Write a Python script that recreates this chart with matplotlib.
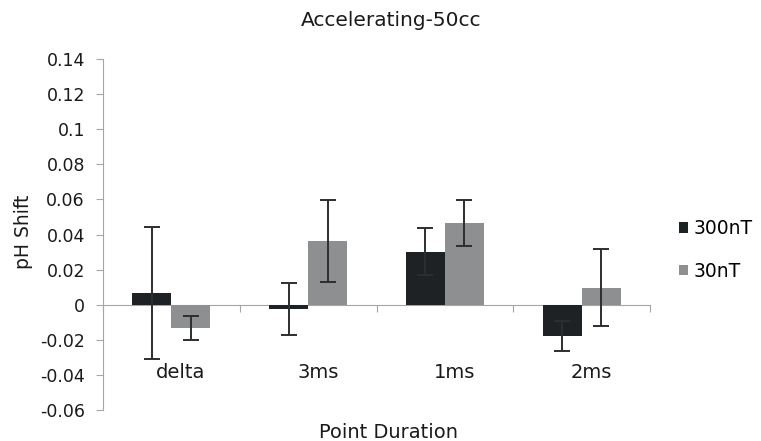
import numpy as np
import matplotlib
matplotlib.use("Agg")
import matplotlib.pyplot as plt

# Data
categories = ["delta", "3ms", "1ms", "2ms"]
series_names = ["300nT", "30nT"]
shift_300nT = [0.0067, -0.0025, 0.0303, -0.0177]
err_300nT = [0.0374, 0.0147, 0.0136, 0.0085]
shift_30nT = [-0.0133, 0.0363, 0.0467, 0.0097]
err_30nT = [0.0068, 0.0233, 0.0130, 0.0219]
y_ticks = [-0.06, -0.04, -0.02, 0, 0.02, 0.04, 0.06, 0.08, 0.1, 0.12, 0.14]
y_tick_labels = ["-0.06", "-0.04", "-0.02", "0", "0.02", "0.04", "0.06",
                 "0.08", "0.1", "0.12", "0.14"]

plt.rcParams["font.family"] = "DejaVu Sans"

W, H = 761, 441
fig = plt.figure(figsize=(W / 100, H / 100), dpi=100)
ax = fig.add_axes([103 / W, 1 - 410 / H, (650 - 103) / W, (410 - 59) / H])

x = np.arange(len(categories))
width = 0.285
err_style = dict(ecolor="#2e2e2e", elinewidth=1.4, capsize=5.5, capthick=1.4)

b1 = ax.bar(x - width / 2, shift_300nT, width, color="#1e2225", label=series_names[0],
            yerr=err_300nT, error_kw=err_style, zorder=2)
b2 = ax.bar(x + width / 2, shift_30nT, width, color="#8e8f91", label=series_names[1],
            yerr=err_30nT, error_kw=err_style, zorder=2)

# Axes look
ax.set_xlim(-0.5, len(categories) - 0.5)
ax.set_ylim(-0.06, 0.14)
ax.set_yticks(y_ticks)
ax.set_yticklabels(y_tick_labels)
ax.spines["top"].set_visible(False)
ax.spines["right"].set_visible(False)
ax.spines["left"].set_color("#a6a6a6")
ax.spines["bottom"].set_color("#a6a6a6")
ax.spines["bottom"].set_position(("data", 0))
ax.spines["bottom"].set_zorder(1)
ax.set_xticks(np.arange(-0.5, len(categories), 1.0))
ax.set_xticklabels([])
ax.tick_params(axis="x", direction="out", length=5, color="#a6a6a6")
ax.tick_params(axis="y", direction="out", length=5, color="#a6a6a6",
               labelsize=12.5, pad=8, labelcolor="#1a1a1a")

# Category labels sit low, below the bars
for xi, name in zip(x, categories):
    ax.text(xi + 0.07, -0.0418, name, ha="center", va="baseline", fontsize=14,
            color="#1a1a1a")

fig.text(24 / W, 1 - 232 / H, "pH Shift", rotation=90, ha="center", va="center",
         fontsize=13.5, color="#1a1a1a")
fig.text(389 / W, 1 - 432 / H, "Point Duration", ha="center", va="center",
         fontsize=14, color="#1a1a1a")
fig.text(391 / W, 1 - 21 / H, "Accelerating-50cc", ha="center", va="center",
         fontsize=14.5, color="#1a1a1a")

ax.legend(handles=[b1, b2], loc="center left", bbox_to_anchor=(679 / W, 1 - 250 / H),
          bbox_transform=fig.transFigure, frameon=False, fontsize=13.5,
          borderaxespad=0, borderpad=0,
          handlelength=0.5, handleheight=0.5, handletextpad=0.3, labelspacing=1.25)

fig.savefig("out.png", dpi=100)
